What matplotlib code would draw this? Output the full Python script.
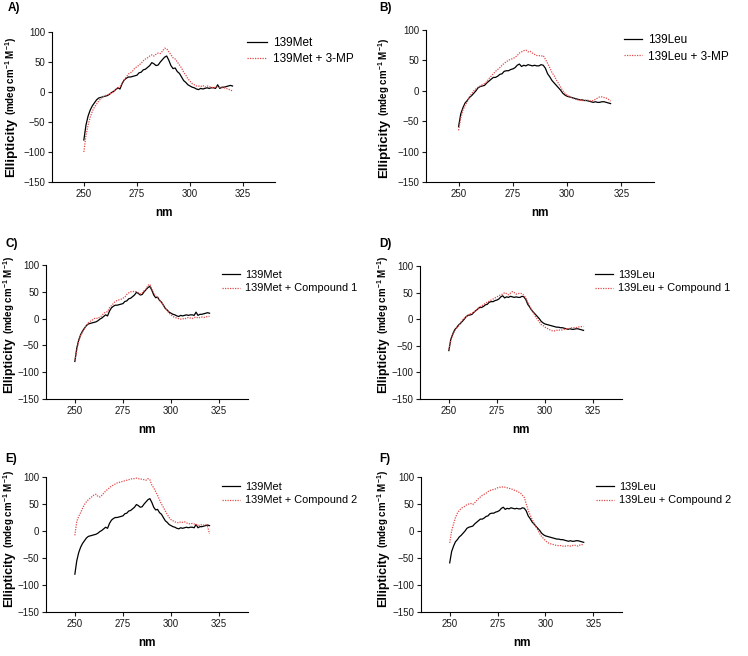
import numpy as np
import matplotlib
matplotlib.use("Agg")
import matplotlib.pyplot as plt

plt.rcParams['font.family'] = ['Liberation Sans', 'DejaVu Sans']
plt.rcParams['mathtext.fontset'] = 'custom'
plt.rcParams['mathtext.rm'] = 'Liberation Sans'
plt.rcParams['mathtext.bf'] = 'Liberation Sans:bold'

# ---------------- data (wavelength 250..320 nm, 1 nm steps) ----------------
wavelength = np.arange(250, 321)

met = [-80, -55, -40, -30, -23, -18, -13, -10, -9, -8,
       -7, -6, -4, -1, 1, 4, 7, 5, 14, 20,
       23, 25, 25, 26, 27, 28, 32, 33, 37, 38,
       41, 44, 49, 47, 44, 45, 50, 54, 58, 60,
       53, 44, 39, 40, 34, 31, 25, 19, 16, 12,
       10, 8, 7, 5, 4, 6, 5, 6, 7, 6,
       7, 7, 6, 12, 6, 8, 8, 9, 10, 11,
       10]

leu = [-59, -38, -28, -20, -16, -11, -8, -4, 0, 5,
       7, 8, 9, 13, 16, 19, 22, 22, 24, 27,
       28, 32, 33, 33, 35, 36, 38, 42, 44, 40,
       42, 41, 43, 42, 41, 42, 41, 41, 43, 42,
       37, 28, 23, 17, 13, 9, 5, 1, -4, -7,
       -9, -10, -11, -12, -13, -14, -15, -15, -16, -16,
       -17, -18, -19, -18, -19, -19, -18, -18, -19, -20,
       -21]

met_3mp = [-100, -72, -55, -42, -32, -25, -20, -15, -11, -8,
           -6, -5, -3, -2, 0, 4, 7, 9, 14, 20,
           25, 30, 32, 35, 40, 42, 45, 48, 52, 55,
           57, 60, 62, 60, 63, 65, 64, 68, 73, 72,
           67, 62, 57, 55, 50, 45, 40, 33, 28, 22,
           18, 14, 12, 10, 10, 9, 11, 8, 10, 9,
           8, 7, 8, 9, 8, 7, 7, 6, 5, 3,
           2]

leu_3mp = [-65, -45, -32, -24, -18, -10, -5, 0, 3, 6,
           8, 10, 12, 15, 20, 24, 28, 32, 35, 38,
           42, 45, 48, 50, 52, 53, 55, 58, 62, 64,
           66, 67, 64, 65, 62, 60, 58, 58, 57, 58,
           52, 45, 38, 30, 25, 18, 12, 6, 0, -4,
           -7, -9, -11, -13, -14, -15, -15, -16, -16, -15,
           -16, -17, -16, -14, -12, -10, -10, -11, -12, -14,
           -17]

met_c1 = [-78, -60, -42, -32, -25, -18, -13, -8, -5, -3,
          0, 1, 0, 3, 5, 10, 12, 13, 20, 24,
          28, 32, 34, 35, 36, 38, 40, 45, 48, 50,
          50, 51, 50, 48, 46, 48, 52, 55, 62, 64,
          55, 48, 42, 40, 35, 30, 25, 20, 15, 10,
          7, 4, 2, 1, 0, -1, 0, -1, 1, 2,
          1, 0, 2, 3, 1, 2, 3, 2, 3, 4,
          4]

leu_c1 = [-57, -40, -30, -22, -17, -13, -7, -2, 2, 5,
          8, 10, 11, 13, 16, 20, 23, 25, 27, 30,
          32, 34, 36, 38, 40, 42, 44, 46, 47, 50,
          48, 46, 49, 52, 50, 47, 48, 49, 48, 45,
          40, 32, 25, 18, 12, 5, 0, -5, -10, -12,
          -15, -17, -19, -21, -22, -22, -21, -20, -21, -20,
          -19, -18, -18, -17, -16, -16, -16, -15, -14, -14,
          -14]

met_c2 = [-8, 18, 27, 34, 42, 49, 54, 58, 61, 64,
          67, 68, 64, 63, 66, 70, 74, 77, 80, 83,
          85, 87, 89, 90, 91, 92, 93, 94, 95, 96,
          97, 97, 98, 97, 96, 96, 95, 94, 97, 95,
          85, 80, 73, 66, 58, 50, 44, 37, 31, 25,
          21, 19, 17, 16, 15, 17, 16, 17, 15, 14,
          13, 14, 13, 12, 11, 10, 12, 11, 12, 8,
          -5]

leu_c2 = [-22, 0, 13, 25, 33, 38, 42, 44, 46, 49,
          50, 51, 49, 52, 56, 60, 63, 66, 68, 70,
          73, 75, 76, 77, 78, 80, 81, 81, 82, 81,
          80, 79, 78, 77, 75, 74, 72, 70, 66, 62,
          50, 38, 30, 22, 15, 8, 2, -5, -10, -14,
          -18, -21, -23, -24, -25, -26, -27, -27, -27, -28,
          -28, -28, -27, -28, -27, -26, -27, -28, -26, -25,
          -27]

panel_letters = ['A)', 'B)', 'C)', 'D)', 'E)', 'F)']
base_names = ['139Met', '139Leu', '139Met', '139Leu', '139Met', '139Leu']
treat_names = ['139Met + 3-MP', '139Leu + 3-MP', '139Met + Compound 1',
               '139Leu + Compound 1', '139Met + Compound 2', '139Leu + Compound 2']
base_series = [met, leu, met, leu, met, leu]
treat_series = [met_3mp, leu_3mp, met_c1, leu_c1, met_c2, leu_c2]
x_ticks = [250, 275, 300, 325]
y_ticks = [-150, -100, -50, 0, 50, 100]

# ---------------- layout (pixels) ----------------
W, H = 748, 656
fig = plt.figure(figsize=(W / 100, H / 100), dpi=100)

# axes rects: left, right, top, bottom (px)
rects = [(52, 275, 32, 182), (426, 654, 30, 182),
         (46, 248, 265, 399), (420, 622, 266, 399),
         (46, 248, 477, 612), (421, 622, 477, 612)]
# legend: handle start x, row1 y, row2 y, fontsize, handlelength
legs = [(247, 43, 59, 8.5, 1.7), (624, 40, 57, 8.5, 1.5),
        (222, 274, 289, 7.9, 1.6), (595, 274, 289, 7.9, 1.6),
        (222, 485, 502, 7.9, 1.6), (596, 485, 502, 7.9, 1.6)]
# ylabel: x centre, bottom y, fontsize of main word
ylabs = [(11, 177, 9.5), (384, 178, 9.5), (9, 393, 9.0),
         (383, 393, 9.0), (9, 607, 9.0), (383, 607, 9.0)]
letters_pos = [(8, 8), (379, 8), (5, 244), (379, 244), (5, 459), (379, 459)]

red = '#e34a4a'
main_words = []

for i in range(6):
    l, r, t, b = rects[i]
    ax = fig.add_axes([l / W, 1 - b / H, (r - l) / W, (b - t) / H])
    ax.plot(wavelength, base_series[i], color='black', lw=0.9, label=base_names[i])
    ax.plot(wavelength, treat_series[i], color=red, lw=0.9, ls=(0, (1, 1)),
            label=treat_names[i])
    ax.set_xlim(235, 340)
    ax.set_ylim(-150, 100)
    ax.set_xticks(x_ticks)
    ax.set_yticks(y_ticks)
    for s in ['top', 'right']:
        ax.spines[s].set_visible(False)
    for s in ['left', 'bottom']:
        ax.spines[s].set_linewidth(0.8)
    ax.tick_params(length=3, width=0.8, labelsize=7, pad=2, colors='#1a1a1a')
    ax.set_xlabel('nm', fontsize=8.5, fontweight='bold', labelpad=6)

    lx, y1, y2, fs, hl = legs[i]
    ax.legend(loc='center left', bbox_to_anchor=(lx / W, 1 - (y1 + y2) / 2 / H),
              bbox_transform=fig.transFigure, frameon=False, fontsize=fs,
              borderpad=0, borderaxespad=0, handlelength=hl, handletextpad=0.5,
              labelspacing=0.35)

    xc, yb, fsz = ylabs[i]
    tw = fig.text(xc / W, 1 - yb / H, 'Ellipticity', rotation=90, ha='center',
                  va='bottom', fontsize=fsz, fontweight='bold')
    main_words.append((tw, xc))

    px, py = letters_pos[i]
    fig.text(px / W, 1 - py / H, panel_letters[i], fontsize=8.5, fontweight='bold',
             ha='left', va='center')

# place the units part of each y label right after "Ellipticity"
fig.canvas.draw()
renderer = fig.canvas.get_renderer()
for tw, xc in main_words:
    bb = tw.get_window_extent(renderer)
    fig.text(xc / W, (bb.y1 + 3) / H, r'(mdeg cm$^{\mathbf{-1}}$ M$^{\mathbf{-1}}$)',
             rotation=90, ha='center', va='bottom', fontsize=7, fontweight='bold')

fig.savefig('out.png', dpi=100)
